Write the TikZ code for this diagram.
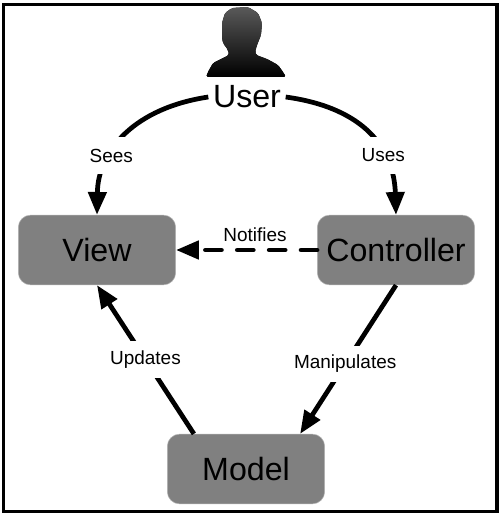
\documentclass[tikz,border=0pt]{standalone}
\usepackage{fontspec}
\setmainfont{Liberation Sans}
\usetikzlibrary{arrows.meta,positioning}
\definecolor{boxgray}{HTML}{808080}
\tikzset{
  mvcbox/.style={draw=boxgray!60!white,line width=0.3pt,fill=boxgray,rounded corners=7pt,minimum width=158*0.567pt,minimum height=70*0.567pt,font=\fontsize{18.3pt}{20pt}\selectfont},
  flow/.style={line width=2.7pt,-{Triangle[length=13pt,width=10.2pt]}},
  tag/.style={fill=white,inner sep=2pt,minimum height=21pt,font=\fontsize{10.8pt}{12pt}\selectfont}
}
\begin{document}
\begin{tikzpicture}[x=0.02cm,y=-0.02cm]
    \useasboundingbox (0,0) rectangle (502,517);
    % frame
    \draw[line width=1.9pt] (3.5,4.5) rectangle (497,511.5);
    % person
    \fill[top color=black!65,bottom color=black,rounded corners=1pt] (206,77) -- (208,72) -- (213,63) -- (223,58) -- (229,55) -- (228,50)
      -- (223,43) -- (222,38) -- (222,23) -- (225,13) -- (232,8) -- (248,7) -- (258,13) -- (262,23) -- (261,35) -- (257,45) -- (255,52)
      -- (256,55) -- (267,59) -- (278,65) -- (283,72) -- (286,77) -- cycle;
    % nodes
    \node[mvcbox] (view) at (97,250) {View};
    \node[mvcbox] (controller) at (396,250) {Controller};
    \node[mvcbox] (model) at (246,469) {Model};
    \node[font=\fontsize{18.3pt}{20pt}\selectfont,inner xsep=2.5pt,inner ysep=0pt] (user) at (247,97) {User};
    % connectors
    \draw[flow] (user.west) .. controls (135,108) and (98,150) .. node[tag,pos=0.65]{Sees} (view.north);
    \draw[flow] (user.east) .. controls (366,108) and (394,150) .. node[tag,pos=0.65]{Uses} (controller.north);
    \draw[flow,line cap=round,dash pattern=on 16*0.567pt off 16*0.567pt] (controller.west) -- node[above,pos=0.44,font=\fontsize{10.8pt}{12pt}\selectfont]{Notifies} (view.east);
    \draw[flow] (model.146.6) -- node[tag]{Updates} (view.south);
    \draw[flow] (controller.south) -- node[tag,pos=0.53]{Manipulates} (model.33.7);
\end{tikzpicture}
\end{document}
